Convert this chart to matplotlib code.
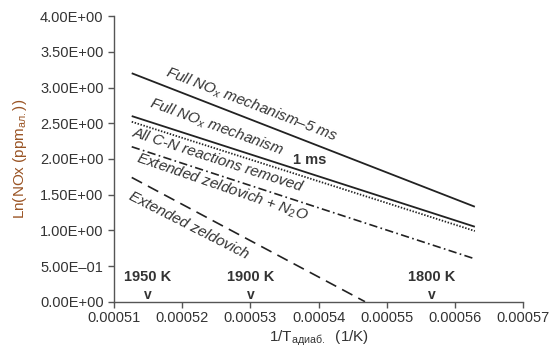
import matplotlib
matplotlib.use("Agg")
import matplotlib.pyplot as plt

plt.rcParams['font.family'] = ['Liberation Sans', 'DejaVu Sans']
plt.rcParams['mathtext.fontset'] = 'custom'
plt.rcParams['mathtext.rm'] = 'Liberation Sans'
plt.rcParams['mathtext.it'] = 'Liberation Sans:italic'
plt.rcParams['mathtext.bf'] = 'Liberation Sans:bold'

# Data
x_lines = [0.0005126, 0.0005629]
full_5ms = [3.20, 1.33]
full_1ms = [2.60, 1.05]
all_cn_removed = [2.52, 0.99]
ext_zeld_n2o = [2.17, 0.60]
x_ext_zeld = [0.0005126, 0.0005468]
ext_zeld = [1.74, 0.0]

x_ticks = [0.00051, 0.00052, 0.00053, 0.00054, 0.00055, 0.00056, 0.00057]
x_ticklabels = ['0.00051', '0.00052', '0.00053', '0.00054', '0.00055', '0.00056', '0.00057']
y_ticks = [0.0, 0.5, 1.0, 1.5, 2.0, 2.5, 3.0, 3.5, 4.0]
y_ticklabels = ['0.00E+00', '5.00E–01', '1.00E+00', '1.50E+00', '2.00E+00',
                '2.50E+00', '3.00E+00', '3.50E+00', '4.00E+00']

temp_labels = ['1950 K', '1900 K', '1800 K']
temp_x = [0.0005150, 0.0005301, 0.0005566]

fig = plt.figure(figsize=(5.52, 3.5), dpi=100)
ax = fig.add_axes([0.2065, 0.138, 0.7415, 0.816])

lc = '#222222'
ax.plot(x_lines, full_5ms, color=lc, lw=1.3, solid_capstyle='butt')
ax.plot(x_lines, full_1ms, color=lc, lw=1.3, solid_capstyle='butt')
ax.plot(x_lines, all_cn_removed, color=lc, lw=1.3, linestyle=(0, (0.8, 0.9)))
ax.plot(x_lines, ext_zeld_n2o, color=lc, lw=1.2, linestyle=(0, (5, 2, 1, 2)))
ax.plot(x_ext_zeld, ext_zeld, color=lc, lw=1.2, linestyle=(0, (7, 4)))

ax.set_xlim(0.00051, 0.00057)
ax.set_ylim(0, 4)
ax.set_xticks(x_ticks)
ax.set_xticklabels(x_ticklabels)
ax.set_yticks(y_ticks)
ax.set_yticklabels(y_ticklabels)

for s in ['top', 'right']:
    ax.spines[s].set_visible(False)
for s in ['left', 'bottom']:
    ax.spines[s].set_color('#555555')
    ax.spines[s].set_linewidth(1.0)
ax.tick_params(axis='both', direction='out', length=4, width=1.0, color='#555555',
               labelsize=10.5, labelcolor='#333333')
ax.tick_params(axis='x', pad=3)

tc = '#333333'
kw = dict(ha='center', va='center', rotation_mode='anchor', style='italic',
          fontsize=11, color=tc)
ax.text(0.0005302, 2.755, r'Full NO$_{\mathit{x}}$ mechanism–5 ms', rotation=-21, **kw)
ax.text(0.0005250, 2.447, r'Full NO$_{\mathit{x}}$ mechanism', rotation=-20, **kw)
ax.text(0.0005252, 1.985, 'All C-N reactions removed', rotation=-18, **kw)
ax.text(0.0005258, 1.606, r'Extended zeldovich + N$_{\mathit{2}}$O', rotation=-19, **kw)
ax.text(0.0005209, 1.074, 'Extended zeldovich', rotation=-27, **kw)
ax.text(0.0005387, 1.985, '1 ms', ha='center', va='center', fontsize=10.5,
        fontweight='bold', color=tc)

for lbl, xv in zip(temp_labels, temp_x):
    ax.text(xv, 0.346, lbl, ha='center', va='center', fontsize=10.5,
            fontweight='bold', color=tc)
    ax.text(xv, 0.10, 'v', ha='center', va='center', fontsize=10,
            fontweight='bold', color=tc)

ax.set_xlabel(r'1/T$_{\mathregular{адиаб.}}$  (1/K)', fontsize=11, color=tc, labelpad=2)
ax.set_ylabel(r'Ln(NOx (ppm$_{\mathregular{ал.}}$))', fontsize=11, color='#9a5424', labelpad=8)

fig.savefig('out.png', dpi=100)
